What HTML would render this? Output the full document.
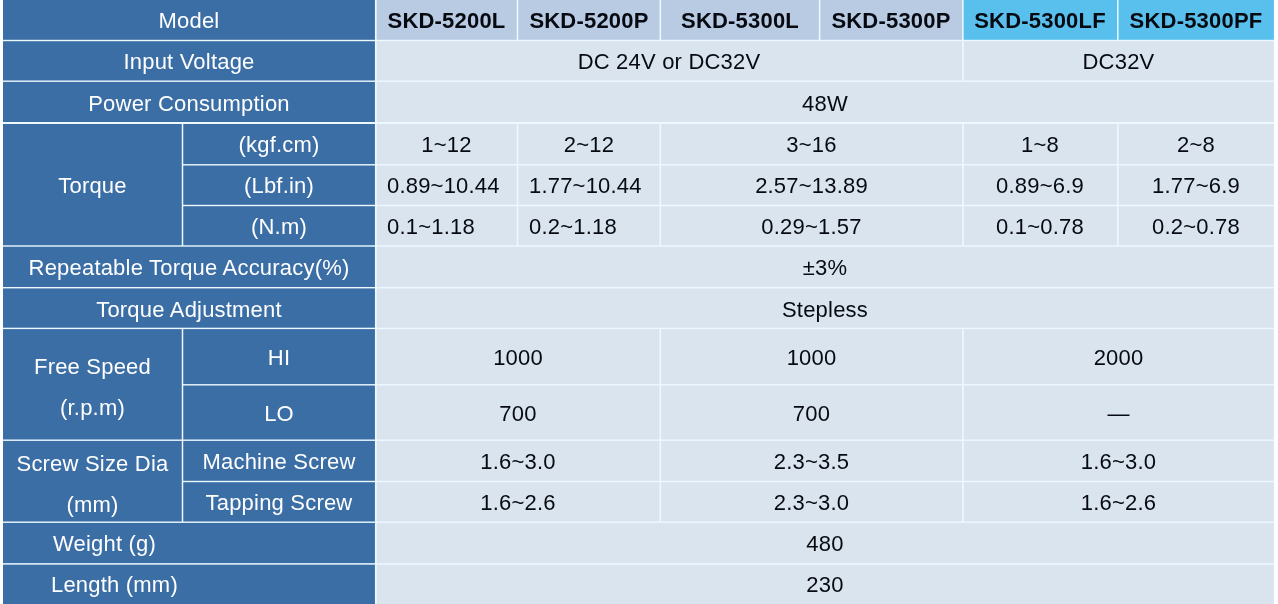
<!DOCTYPE html>
<html><head><meta charset="utf-8"><style>
html,body{margin:0;padding:0;background:#fff;width:1278px;height:604px;overflow:hidden;position:relative}
svg{position:absolute;left:0;top:0}
.c{position:absolute;display:flex;align-items:center;justify-content:center;font-family:"Liberation Sans",sans-serif;font-size:22px;letter-spacing:0.2px;white-space:nowrap;box-sizing:border-box;will-change:transform}
.c span{position:relative;top:1px}
.w{color:#fff}
.k{color:#060a10}
.h{color:#060a10;font-weight:bold}
.c span.two{display:block;text-align:center;line-height:41px;top:1px}
</style></head><body>
<svg width="1278" height="604" viewBox="0 0 1278 604">
<rect x="3.0" y="0" width="1270.90" height="604" fill="#ecfaff"/>
<rect x="3.00" y="0.00" width="371.95" height="39.80" fill="#3c6ea6"/>
<rect x="376.65" y="0.00" width="140.10" height="39.80" fill="#b8cbe3"/>
<rect x="518.25" y="0.00" width="141.30" height="39.80" fill="#b8cbe3"/>
<rect x="661.05" y="0.00" width="157.80" height="39.80" fill="#b8cbe3"/>
<rect x="820.35" y="0.00" width="141.80" height="39.80" fill="#b8cbe3"/>
<rect x="963.65" y="0.00" width="153.40" height="39.80" fill="#59c0ee"/>
<rect x="1118.55" y="0.00" width="155.35" height="39.80" fill="#59c0ee"/>
<rect x="3.00" y="41.20" width="371.95" height="39.30" fill="#3c6ea6"/>
<rect x="376.65" y="41.20" width="585.50" height="39.30" fill="#d9e4ef"/>
<rect x="963.65" y="41.20" width="310.25" height="39.30" fill="#d9e4ef"/>
<rect x="3.00" y="81.90" width="371.95" height="40.10" fill="#3c6ea6"/>
<rect x="376.65" y="81.90" width="897.25" height="40.10" fill="#d9e4ef"/>
<rect x="3.00" y="124.00" width="178.75" height="121.30" fill="#3c6ea6"/>
<rect x="183.25" y="124.00" width="191.70" height="40.10" fill="#3c6ea6"/>
<rect x="376.65" y="124.00" width="140.10" height="40.10" fill="#d9e4ef"/>
<rect x="518.25" y="124.00" width="141.30" height="40.10" fill="#d9e4ef"/>
<rect x="661.05" y="124.00" width="301.10" height="40.10" fill="#d9e4ef"/>
<rect x="963.65" y="124.00" width="153.40" height="40.10" fill="#d9e4ef"/>
<rect x="1118.55" y="124.00" width="155.35" height="40.10" fill="#d9e4ef"/>
<rect x="183.25" y="165.50" width="191.70" height="39.30" fill="#3c6ea6"/>
<rect x="376.65" y="165.50" width="140.10" height="39.30" fill="#d9e4ef"/>
<rect x="518.25" y="165.50" width="141.30" height="39.30" fill="#d9e4ef"/>
<rect x="661.05" y="165.50" width="301.10" height="39.30" fill="#d9e4ef"/>
<rect x="963.65" y="165.50" width="153.40" height="39.30" fill="#d9e4ef"/>
<rect x="1118.55" y="165.50" width="155.35" height="39.30" fill="#d9e4ef"/>
<rect x="183.25" y="206.20" width="191.70" height="39.10" fill="#3c6ea6"/>
<rect x="376.65" y="206.20" width="140.10" height="39.10" fill="#d9e4ef"/>
<rect x="518.25" y="206.20" width="141.30" height="39.10" fill="#d9e4ef"/>
<rect x="661.05" y="206.20" width="301.10" height="39.10" fill="#d9e4ef"/>
<rect x="963.65" y="206.20" width="153.40" height="39.10" fill="#d9e4ef"/>
<rect x="1118.55" y="206.20" width="155.35" height="39.10" fill="#d9e4ef"/>
<rect x="3.00" y="246.70" width="371.95" height="40.30" fill="#3c6ea6"/>
<rect x="376.65" y="246.70" width="897.25" height="40.30" fill="#d9e4ef"/>
<rect x="3.00" y="288.40" width="371.95" height="39.30" fill="#3c6ea6"/>
<rect x="376.65" y="288.40" width="897.25" height="39.30" fill="#d9e4ef"/>
<rect x="3.00" y="329.10" width="178.75" height="110.40" fill="#3c6ea6"/>
<rect x="183.25" y="329.10" width="191.70" height="55.00" fill="#3c6ea6"/>
<rect x="183.25" y="385.50" width="191.70" height="54.00" fill="#3c6ea6"/>
<rect x="376.65" y="329.10" width="282.90" height="55.00" fill="#d9e4ef"/>
<rect x="661.05" y="329.10" width="301.10" height="55.00" fill="#d9e4ef"/>
<rect x="963.65" y="329.10" width="310.25" height="55.00" fill="#d9e4ef"/>
<rect x="376.65" y="385.50" width="282.90" height="54.00" fill="#d9e4ef"/>
<rect x="661.05" y="385.50" width="301.10" height="54.00" fill="#d9e4ef"/>
<rect x="963.65" y="385.50" width="310.25" height="54.00" fill="#d9e4ef"/>
<rect x="3.00" y="440.90" width="178.75" height="80.60" fill="#3c6ea6"/>
<rect x="183.25" y="440.90" width="191.70" height="39.90" fill="#3c6ea6"/>
<rect x="183.25" y="482.20" width="191.70" height="39.30" fill="#3c6ea6"/>
<rect x="376.65" y="440.90" width="282.90" height="39.90" fill="#d9e4ef"/>
<rect x="661.05" y="440.90" width="301.10" height="39.90" fill="#d9e4ef"/>
<rect x="963.65" y="440.90" width="310.25" height="39.90" fill="#d9e4ef"/>
<rect x="376.65" y="482.20" width="282.90" height="39.30" fill="#d9e4ef"/>
<rect x="661.05" y="482.20" width="301.10" height="39.30" fill="#d9e4ef"/>
<rect x="963.65" y="482.20" width="310.25" height="39.30" fill="#d9e4ef"/>
<rect x="3.00" y="522.90" width="371.95" height="40.25" fill="#3c6ea6"/>
<rect x="376.65" y="522.90" width="897.25" height="40.25" fill="#d9e4ef"/>
<rect x="3.00" y="564.65" width="371.95" height="39.35" fill="#3c6ea6"/>
<rect x="376.65" y="564.65" width="897.25" height="39.35" fill="#d9e4ef"/>
</svg>
<div class="c w" style="left:3px;top:0px;width:372px;height:40px;"><span>Model</span></div>
<div class="c h" style="left:376px;top:0px;width:141px;height:40px;"><span>SKD-5200L</span></div>
<div class="c h" style="left:518px;top:0px;width:142px;height:40px;"><span>SKD-5200P</span></div>
<div class="c h" style="left:661px;top:0px;width:158px;height:40px;"><span>SKD-5300L</span></div>
<div class="c h" style="left:820px;top:0px;width:142px;height:40px;"><span>SKD-5300P</span></div>
<div class="c h" style="left:963px;top:0px;width:154px;height:40px;"><span>SKD-5300LF</span></div>
<div class="c h" style="left:1118px;top:0px;width:156px;height:40px;"><span>SKD-5300PF</span></div>
<div class="c w" style="left:3px;top:41px;width:372px;height:40px;"><span>Input Voltage</span></div>
<div class="c k" style="left:376px;top:41px;width:586px;height:40px;"><span>DC 24V or DC32V</span></div>
<div class="c k" style="left:963px;top:41px;width:311px;height:40px;"><span>DC32V</span></div>
<div class="c w" style="left:3px;top:82px;width:372px;height:40px;padding-top:2px"><span>Power Consumption</span></div>
<div class="c k" style="left:376px;top:82px;width:898px;height:40px;padding-top:2px"><span>48W</span></div>
<div class="c w" style="left:3px;top:124px;width:179px;height:122px;"><span>Torque</span></div>
<div class="c w" style="left:183px;top:124px;width:192px;height:40px;"><span>(kgf.cm)</span></div>
<div class="c k" style="left:376px;top:124px;width:141px;height:40px;"><span>1~12</span></div>
<div class="c k" style="left:518px;top:124px;width:142px;height:40px;"><span>2~12</span></div>
<div class="c k" style="left:661px;top:124px;width:301px;height:40px;"><span>3~16</span></div>
<div class="c k" style="left:963px;top:124px;width:154px;height:40px;"><span>1~8</span></div>
<div class="c k" style="left:1118px;top:124px;width:156px;height:40px;"><span>2~8</span></div>
<div class="c w" style="left:183px;top:165px;width:192px;height:40px;"><span>(Lbf.in)</span></div>
<div class="c k" style="left:376px;top:165px;width:141px;height:40px;justify-content:flex-start;padding-left:11px"><span>0.89~10.44</span></div>
<div class="c k" style="left:518px;top:165px;width:142px;height:40px;justify-content:flex-start;padding-left:11px"><span>1.77~10.44</span></div>
<div class="c k" style="left:661px;top:165px;width:301px;height:40px;"><span>2.57~13.89</span></div>
<div class="c k" style="left:963px;top:165px;width:154px;height:40px;"><span>0.89~6.9</span></div>
<div class="c k" style="left:1118px;top:165px;width:156px;height:40px;"><span>1.77~6.9</span></div>
<div class="c w" style="left:183px;top:206px;width:192px;height:40px;"><span>(N.m)</span></div>
<div class="c k" style="left:376px;top:206px;width:141px;height:40px;justify-content:flex-start;padding-left:11px"><span>0.1~1.18</span></div>
<div class="c k" style="left:518px;top:206px;width:142px;height:40px;justify-content:flex-start;padding-left:11px"><span>0.2~1.18</span></div>
<div class="c k" style="left:661px;top:206px;width:301px;height:40px;"><span>0.29~1.57</span></div>
<div class="c k" style="left:963px;top:206px;width:154px;height:40px;"><span>0.1~0.78</span></div>
<div class="c k" style="left:1118px;top:206px;width:156px;height:40px;"><span>0.2~0.78</span></div>
<div class="c w" style="left:3px;top:247px;width:372px;height:40px;"><span>Repeatable Torque Accuracy(%)</span></div>
<div class="c k" style="left:376px;top:247px;width:898px;height:40px;"><span>±3%</span></div>
<div class="c w" style="left:3px;top:288px;width:372px;height:40px;padding-top:2px"><span>Torque Adjustment</span></div>
<div class="c k" style="left:376px;top:288px;width:898px;height:40px;padding-top:2px"><span>Stepless</span></div>
<div class="c w" style="left:3px;top:329px;width:179px;height:111px;"><span><span class="two">Free Speed<br>(r.p.m)</span></span></div>
<div class="c w" style="left:183px;top:329px;width:192px;height:55px;"><span>HI</span></div>
<div class="c w" style="left:183px;top:385px;width:192px;height:55px;"><span>LO</span></div>
<div class="c k" style="left:376px;top:329px;width:284px;height:55px;"><span>1000</span></div>
<div class="c k" style="left:661px;top:329px;width:301px;height:55px;"><span>1000</span></div>
<div class="c k" style="left:963px;top:329px;width:311px;height:55px;"><span>2000</span></div>
<div class="c k" style="left:376px;top:385px;width:284px;height:55px;"><span>700</span></div>
<div class="c k" style="left:661px;top:385px;width:301px;height:55px;"><span>700</span></div>
<div class="c k" style="left:963px;top:385px;width:311px;height:55px;"><span>—</span></div>
<div class="c w" style="left:3px;top:441px;width:179px;height:81px;"><span><span class="two">Screw Size Dia<br>(mm)</span></span></div>
<div class="c w" style="left:183px;top:441px;width:192px;height:40px;"><span>Machine Screw</span></div>
<div class="c w" style="left:183px;top:482px;width:192px;height:40px;"><span>Tapping Screw</span></div>
<div class="c k" style="left:376px;top:441px;width:284px;height:40px;"><span>1.6~3.0</span></div>
<div class="c k" style="left:661px;top:441px;width:301px;height:40px;"><span>2.3~3.5</span></div>
<div class="c k" style="left:963px;top:441px;width:311px;height:40px;"><span>1.6~3.0</span></div>
<div class="c k" style="left:376px;top:482px;width:284px;height:40px;"><span>1.6~2.6</span></div>
<div class="c k" style="left:661px;top:482px;width:301px;height:40px;"><span>2.3~3.0</span></div>
<div class="c k" style="left:963px;top:482px;width:311px;height:40px;"><span>1.6~2.6</span></div>
<div class="c w" style="left:3px;top:523px;width:372px;height:40px;justify-content:flex-start;padding-left:50px"><span>Weight (g)</span></div>
<div class="c k" style="left:376px;top:523px;width:898px;height:40px;"><span>480</span></div>
<div class="c w" style="left:3px;top:564px;width:372px;height:40px;justify-content:flex-start;padding-left:48px"><span>Length (mm)</span></div>
<div class="c k" style="left:376px;top:564px;width:898px;height:40px;"><span>230</span></div>
</body></html>
